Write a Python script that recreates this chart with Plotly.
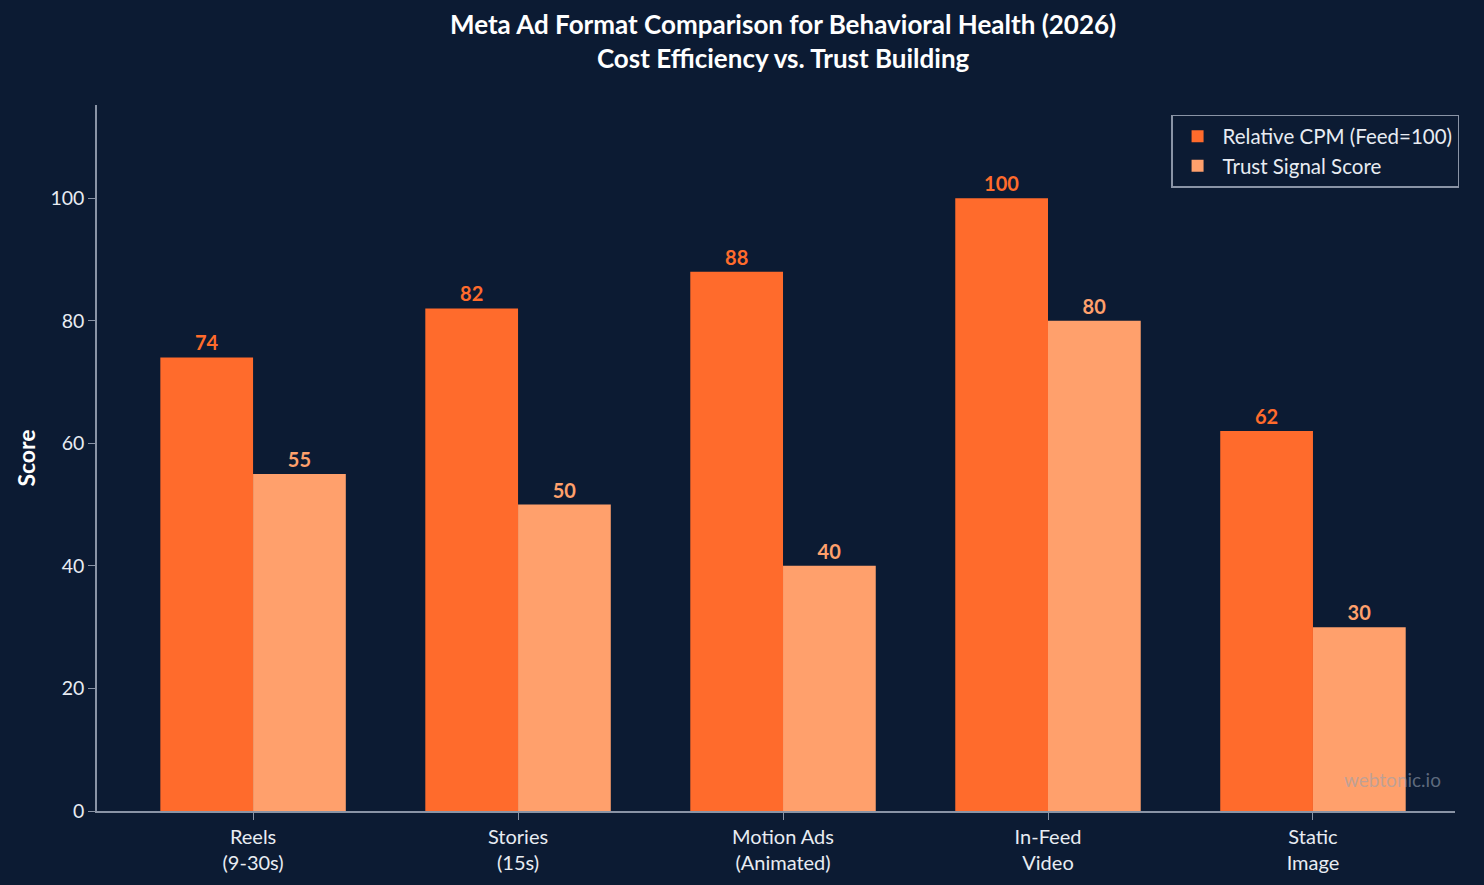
import plotly.graph_objects as go

categories = ["Reels<br>(9-30s)", "Stories<br>(15s)", "Motion Ads<br>(Animated)", "In-Feed<br>Video", "Static<br>Image"]
cpm = [74, 82, 88, 100, 62]
trust = [55, 50, 40, 80, 30]
y_ticks = [0, 20, 40, 60, 80, 100]
title_text = "Meta Ad Format Comparison for Behavioral Health (2026)<br>Cost Efficiency vs. Trust Building"

BG = "#0c1b33"
C1 = "#ff6b2c"
C2 = "#ffa06c"
GRID = "#8a94a6"
FONT = "Lato"

x = list(range(len(categories)))
w = 0.35

fig = go.Figure()
fig.add_trace(go.Bar(
    x=[i - w / 2 for i in x], y=cpm, width=w, name="Relative CPM (Feed=100)",
    marker=dict(color=C1, line=dict(width=0)),
    text=[str(v) for v in cpm], textposition="outside",
    textfont=dict(color=C1, size=20, family=FONT, weight="bold"), cliponaxis=False,
))
fig.add_trace(go.Bar(
    x=[i + w / 2 for i in x], y=trust, width=w, name="Trust Signal Score",
    marker=dict(color=C2, line=dict(width=0)),
    text=[str(v) for v in trust], textposition="outside",
    textfont=dict(color=C2, size=20, family=FONT, weight="bold"), cliponaxis=False,
))

fig.update_layout(
    width=1484, height=885,
    paper_bgcolor=BG, plot_bgcolor=BG,
    font=dict(family=FONT, color="#e8ecf2", size=19),
    barmode="overlay",
    margin=dict(l=97, r=29, t=105, b=74),
    xaxis=dict(
        tickmode="array", tickvals=x, ticktext=categories,
        range=[-0.589, 4.536], showgrid=False, zeroline=False,
        showline=True, linecolor=GRID, linewidth=1.5,
        ticks="outside", ticklen=7, tickcolor=GRID,
        tickfont=dict(size=20, color="#e8ecf2"),
    ),
    yaxis=dict(
        range=[0, 115.2], tickvals=y_ticks, showgrid=False, zeroline=False,
        showline=True, linecolor=GRID, linewidth=1.5,
        ticks="outside", ticklen=7, tickcolor=GRID,
        tickfont=dict(size=19.5, color="#e8ecf2"),
        title=dict(text="<b>Score</b>", font=dict(size=23, color="#ffffff"), standoff=8),
    ),
    legend=dict(
        x=1.003, y=0.986, xanchor="right", yanchor="top",
        bgcolor=BG, bordercolor=GRID, borderwidth=1.5,
        font=dict(size=20.5, color="#e8ecf2"),
        itemwidth=40,
    ),
)
fig.add_annotation(
    text=f"<b>{title_text}</b>", xref="paper", yref="paper",
    x=0.505, y=1 + (105 - 41) / (885 - 105 - 74),
    xanchor="center", yanchor="middle", showarrow=False,
    font=dict(size=26, color="#ffffff", family=FONT),
)
fig.add_annotation(
    text="webtonic.io", xref="paper", yref="paper", x=0.991, y=0.025,
    xanchor="right", yanchor="bottom", showarrow=False,
    font=dict(size=19, color="rgba(150,160,176,0.6)", family=FONT),
)
fig.write_html("out.html")
